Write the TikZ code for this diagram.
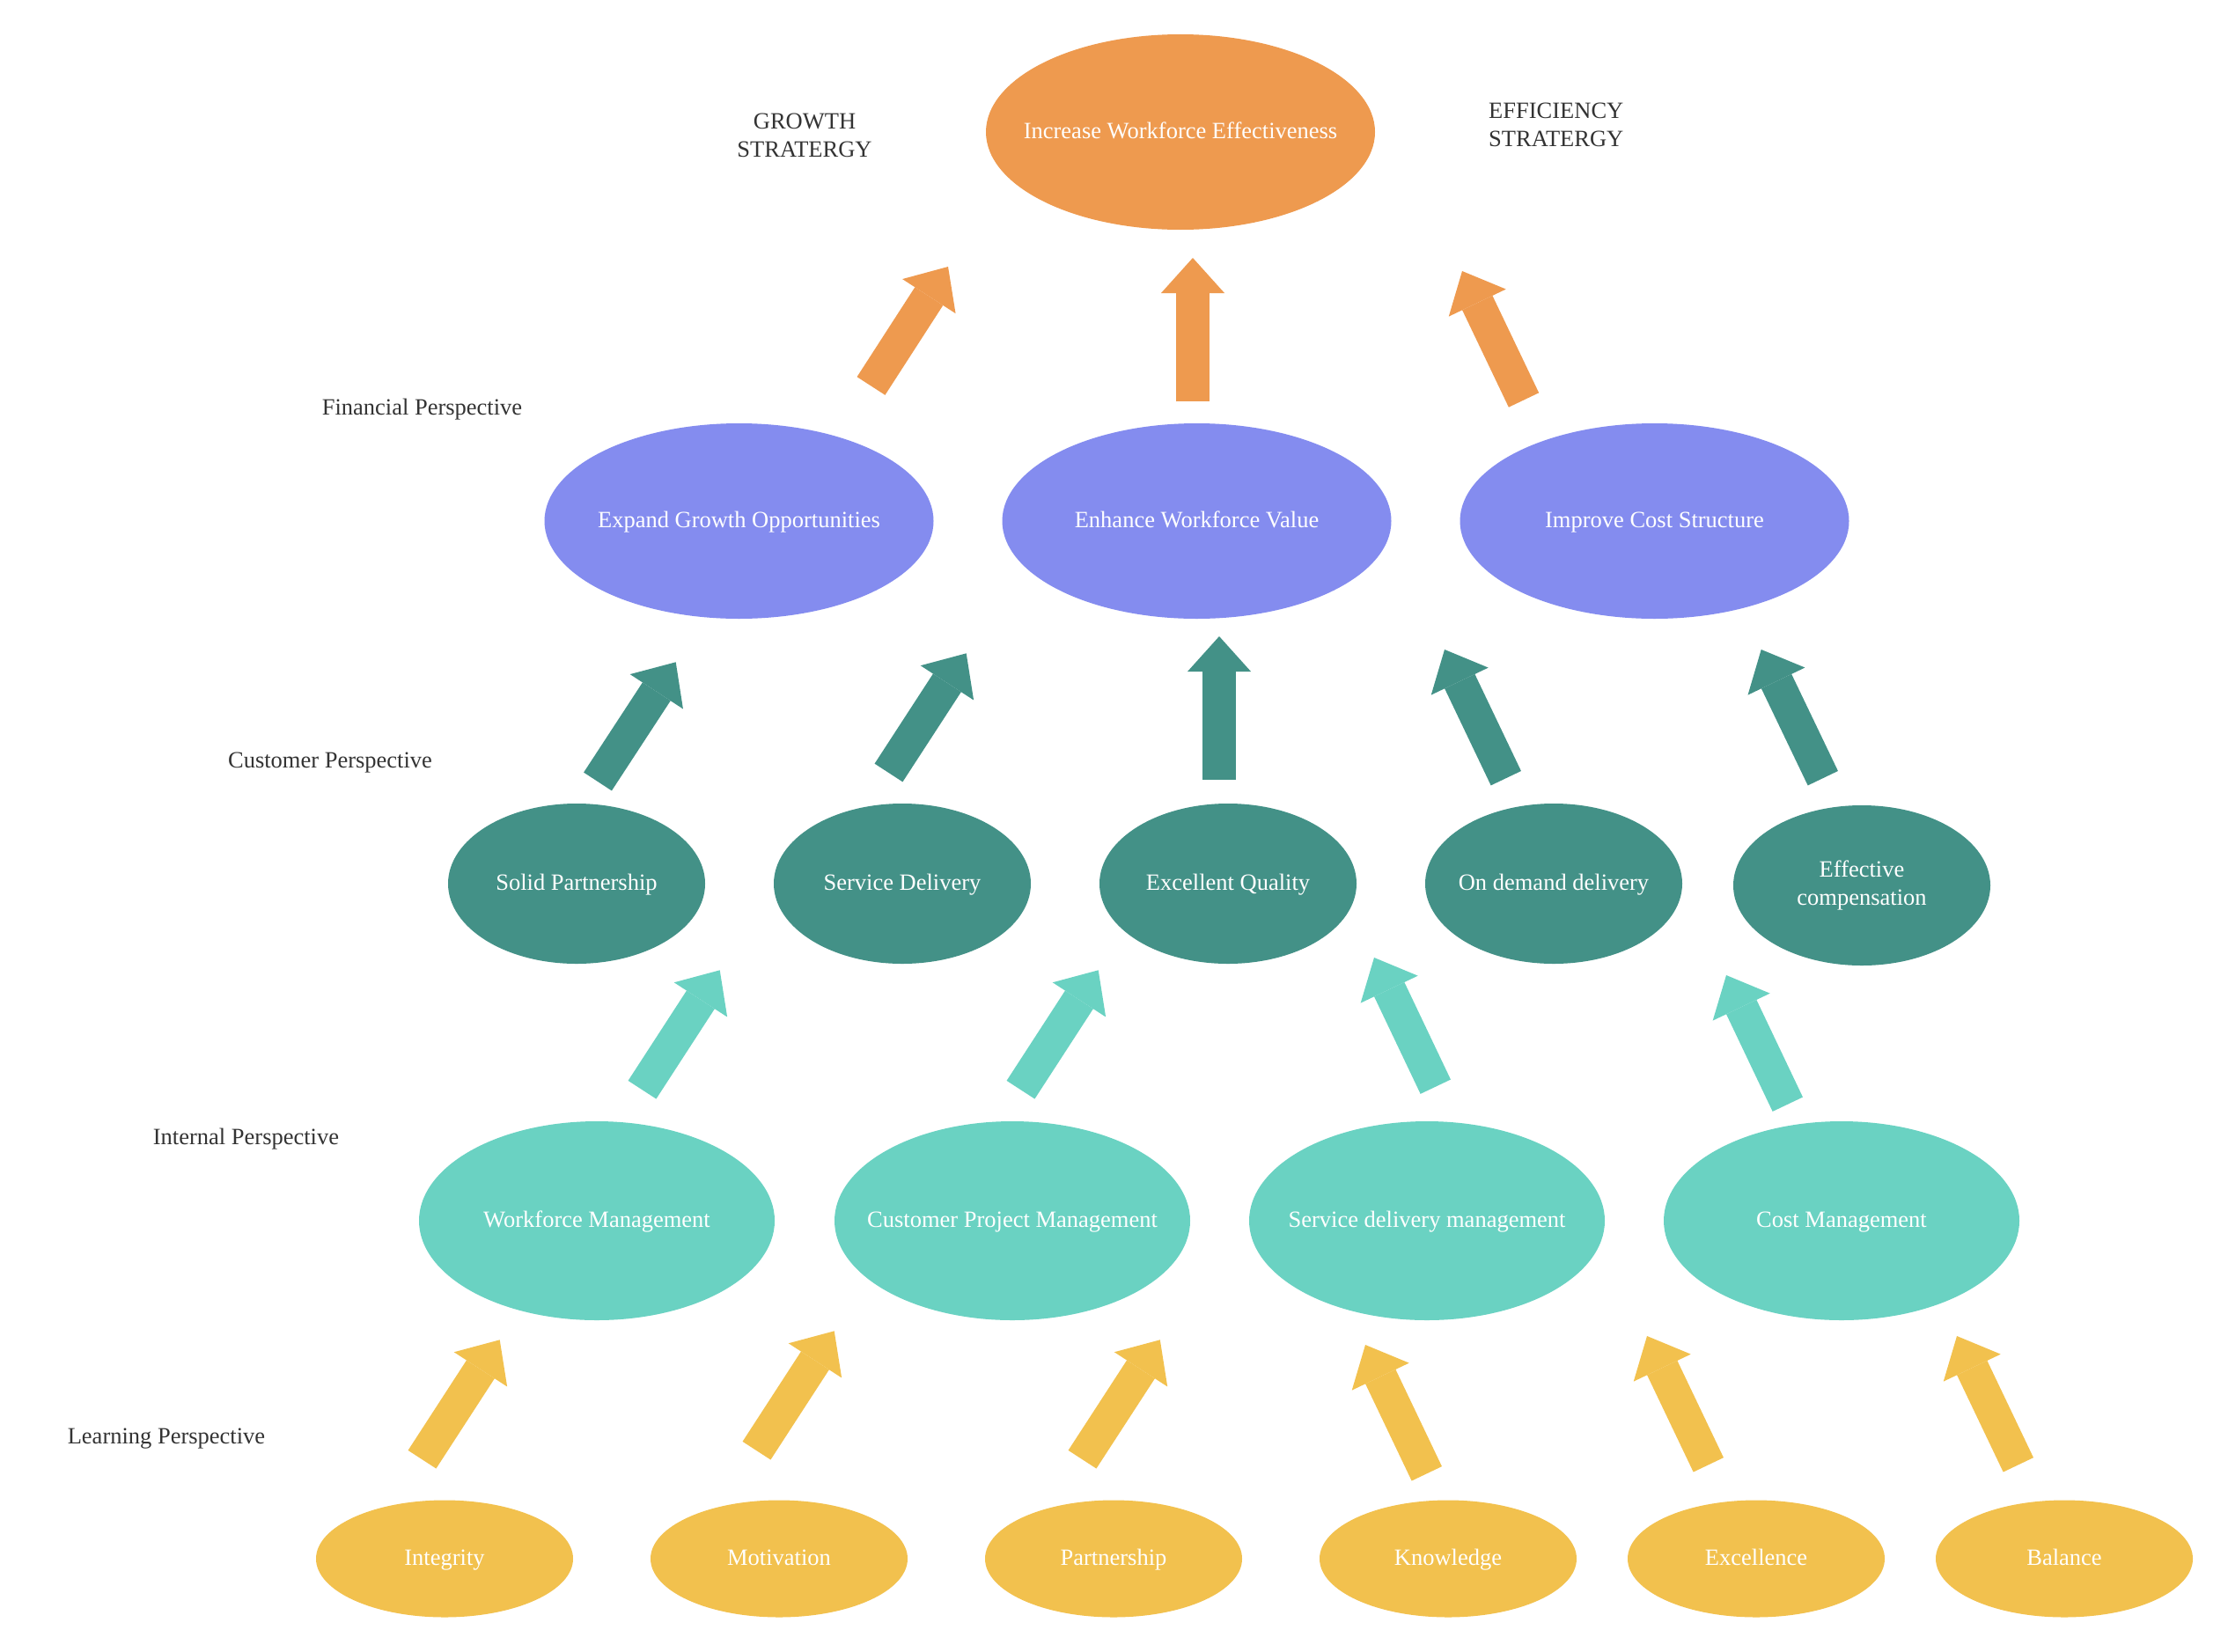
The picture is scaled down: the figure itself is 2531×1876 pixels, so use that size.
\documentclass[tikz,border=0pt]{standalone}
\usepackage{fontspec}
\setmainfont{Liberation Serif}
\usetikzlibrary{shapes.geometric,arrows.meta}
\definecolor{corange}{HTML}{EE9A4F}
\definecolor{cblue}{HTML}{848CEF}
\definecolor{cdteal}{HTML}{439187}
\definecolor{clteal}{HTML}{6AD2C2}
\definecolor{cyellow}{HTML}{F2C14E}
\definecolor{labelgray}{HTML}{333333}
\newcommand{\zwtext}[1]{\makebox[0pt][c]{\rule[-6pt]{0pt}{27pt}#1}}
\begin{document}
\begin{tikzpicture}[x=1pt,y=-1pt,
  every node/.style={font=\fontsize{26.5}{32}\selectfont},
  oval/.style={ellipse, inner sep=0pt, text=white, align=center},
  bigoval/.style={oval, minimum width=442pt, minimum height=222pt},
  custoval/.style={oval, fill=cdteal, minimum width=292pt, minimum height=182pt},
  intoval/.style={oval, fill=clteal, minimum width=404pt, minimum height=226pt},
  learnoval/.style={oval, fill=cyellow, minimum width=292pt, minimum height=133pt},
  lbl/.style={text=labelgray, align=center, inner sep=0pt},
  blockarrow/.style={line width=38pt, -{Triangle[width=72pt,length=40pt,line width=0pt]}}
]
\useasboundingbox (0,0) rectangle (2531,1876);
\fill[white] (0,0) rectangle (2531,1876);

% top
\node[bigoval, fill=corange] (top) at (1341,150) {\zwtext{Increase Workforce Effectiveness}};
\node[lbl] (growth) at (914,154) {GROWTH\\STRATERGY};
\node[lbl, align=left, anchor=west] (eff) at (1691,142) {EFFICIENCY\\STRATERGY};

% perspective labels
\node[lbl] (finl) at (479.5,465) {Financial Perspective};
\node[lbl] (custl) at (375,867) {Customer Perspective};
\node[lbl] (intl) at (279.5,1294) {Internal Perspective};
\node[lbl] (learnl) at (189,1635) {Learning Perspective};

% financial
\node[bigoval, fill=cblue] (f1) at (839.5,592) {\zwtext{Expand Growth Opportunities}};
\node[bigoval, fill=cblue] (f2) at (1359.5,592) {\zwtext{Enhance Workforce Value}};
\node[bigoval, fill=cblue] (f3) at (1879.5,592) {\zwtext{Improve Cost Structure}};

% customer
\node[custoval] (c1) at (655,1004) {\zwtext{Solid Partnership}};
\node[custoval] (c2) at (1025,1004) {\zwtext{Service Delivery}};
\node[custoval] (c3) at (1395,1004) {\zwtext{Excellent Quality}};
\node[custoval] (c4) at (1765,1004) {\zwtext{On demand delivery}};
\node[custoval] (c5) at (2115,1006) {\zwtext{\begin{tabular}{@{}c@{}}Effective\\compensation\end{tabular}}};

% internal
\node[intoval] (i1) at (678,1387) {\zwtext{Workforce Management}};
\node[intoval] (i2) at (1150,1387) {\zwtext{Customer Project Management}};
\node[intoval] (i3) at (1621,1387) {\zwtext{Service delivery management}};
\node[intoval] (i4) at (2092,1387) {\zwtext{Cost Management}};

% learning
\node[learnoval] (l1) at (505,1771) {\zwtext{Integrity}};
\node[learnoval] (l2) at (885,1771) {\zwtext{Motivation}};
\node[learnoval] (l3) at (1265,1771) {\zwtext{Partnership}};
\node[learnoval] (l4) at (1645,1771) {\zwtext{Knowledge}};
\node[learnoval] (l5) at (1995,1771) {\zwtext{Excellence}};
\node[learnoval] (l6) at (2345,1771) {\zwtext{Balance}};

% arrow end points
\coordinate (o1s) at (989.5,438.5);  \coordinate (o1e) at (1077,303);
\coordinate (o2s) at (1355,456);     \coordinate (o2e) at (1355,293);
\coordinate (o3s) at (1731,454.5);   \coordinate (o3e) at (1661,308);

\coordinate (d1s) at (679,888);      \coordinate (d1e) at (767.7,752.3);
\coordinate (d2s) at (1009.5,878);   \coordinate (d2e) at (1097.7,742.3);
\coordinate (d3s) at (1385,886);     \coordinate (d3e) at (1385,723);
\coordinate (d4s) at (1710.8,884.2); \coordinate (d4e) at (1641,738);
\coordinate (d5s) at (2070.8,884.2); \coordinate (d5e) at (2000.7,738);

\coordinate (t1s) at (729.5,1238.2); \coordinate (t1e) at (817.7,1102.3);
\coordinate (t2s) at (1159.5,1238.2);\coordinate (t2e) at (1247.7,1102.3);
\coordinate (t3s) at (1630.8,1234.7);\coordinate (t3e) at (1561,1088);
\coordinate (t4s) at (2030.8,1254.7);\coordinate (t4e) at (1961,1108);

\coordinate (y1s) at (479.5,1658.2); \coordinate (y1e) at (567.7,1522.3);
\coordinate (y2s) at (859.5,1648.2); \coordinate (y2e) at (947.7,1512.3);
\coordinate (y3s) at (1229.5,1658.2);\coordinate (y3e) at (1317.8,1522.3);
\coordinate (y4s) at (1620.8,1674.3);\coordinate (y4e) at (1551,1528);
\coordinate (y5s) at (1940.8,1664.3);\coordinate (y5e) at (1871,1518);
\coordinate (y6s) at (2292.8,1664.3);\coordinate (y6e) at (2223,1518);

% arrows
\draw[blockarrow, corange] (o1s) -- (o1e);
\draw[blockarrow, corange] (o2s) -- (o2e);
\draw[blockarrow, corange] (o3s) -- (o3e);

\draw[blockarrow, cdteal] (d1s) -- (d1e);
\draw[blockarrow, cdteal] (d2s) -- (d2e);
\draw[blockarrow, cdteal] (d3s) -- (d3e);
\draw[blockarrow, cdteal] (d4s) -- (d4e);
\draw[blockarrow, cdteal] (d5s) -- (d5e);

\draw[blockarrow, clteal] (t1s) -- (t1e);
\draw[blockarrow, clteal] (t2s) -- (t2e);
\draw[blockarrow, clteal] (t3s) -- (t3e);
\draw[blockarrow, clteal] (t4s) -- (t4e);

\draw[blockarrow, cyellow] (y1s) -- (y1e);
\draw[blockarrow, cyellow] (y2s) -- (y2e);
\draw[blockarrow, cyellow] (y3s) -- (y3e);
\draw[blockarrow, cyellow] (y4s) -- (y4e);
\draw[blockarrow, cyellow] (y5s) -- (y5e);
\draw[blockarrow, cyellow] (y6s) -- (y6e);
\end{tikzpicture}
\end{document}
